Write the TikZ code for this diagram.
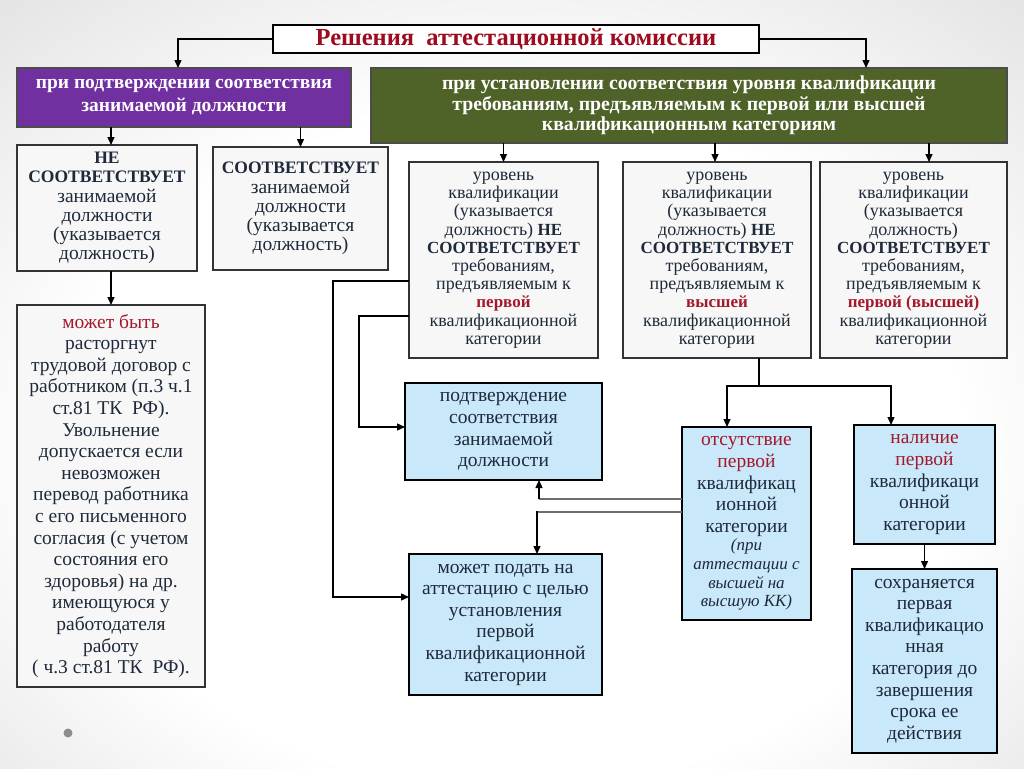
\documentclass[tikz,border=0pt]{standalone}
\usepackage{fontspec}
\setmainfont{Liberation Serif}
\usetikzlibrary{arrows.meta,calc}
\definecolor{txt}{HTML}{1E2A3A}
\definecolor{redt}{HTML}{A3182B}
\definecolor{titred}{HTML}{9E0B1F}
\definecolor{purp}{HTML}{7030A0}
\definecolor{grn}{HTML}{4F6228}
\definecolor{bluef}{HTML}{C9E8F9}
\definecolor{boxw}{HTML}{F7F7F7}
\definecolor{bordc}{HTML}{333333}
\definecolor{gline}{HTML}{6E6E6E}
\pgfdeclareradialshading{bgvig}{\pgfpoint{0bp}{-6bp}}{color(0bp)=(white); color(22bp)=(white); color(50bp)=(black!19); color(75bp)=(black!26)}
\newcommand{\fA}{\fontsize{19.5}{19.2}\selectfont}
\newcommand{\fB}{\fontsize{18}{18.2}\selectfont}
\newcommand{\fC}{\fontsize{19.5}{21.6}\selectfont}
\newcommand{\fI}{\fontsize{17}{19}\selectfont\itshape}
\newcommand{\capA}[1]{{\fontsize{17.5}{19}\selectfont\bfseries #1}}
\newcommand{\capB}[1]{{\fontsize{17}{18}\selectfont\bfseries #1}}
\newcommand{\rd}[1]{\textcolor{redt}{#1}}
\begin{document}
\begin{tikzpicture}[x=1pt,y=-1pt,
  box/.style={draw=bordc, line width=1.2pt, fill=boxw, align=center, inner sep=1pt, outer sep=0pt, text=txt},
  bbox/.style={box, fill=bluef, draw=black},
  arr/.style={line width=1.3pt, -{Triangle[length=8pt,width=7pt]}},
  conn/.style={line width=1.3pt},
  gl/.style={draw=gline, line width=1.8pt}]
\useasboundingbox (0,0) rectangle (1024,768);
\shade[shading=bgvig] (0,0) rectangle (1024,768);
\fill[black!45] (68,733) circle (4.5);

% title
\node[box, fill=white, draw=black, minimum width=486, minimum height=28, font=\fontsize{24.5}{26}\selectfont\bfseries, text=titred] (title) at (516,39) {Решения\ \ аттестационной комиссии};

% header boxes
\node[box, fill=purp, draw=black!70, text=white, minimum width=334, minimum height=59, font=\fontsize{19.5}{23}\selectfont\bfseries] (purple) at (184,97.5) {при подтверждении соответствия\\ занимаемой должности};
\node[box, fill=grn, draw=black!70, text=white, minimum width=636, minimum height=75, font=\fontsize{19.8}{20.7}\selectfont\bfseries] (green) at (689,105.5) {при установлении соответствия уровня квалификации\\ требованиям, предъявляемым к первой или высшей\\ квалификационным категориям};

% left branch
\node[box, minimum width=180, minimum height=126, font=\fA] (ne1) at (107,208) {\capA{НЕ}\\ \capA{СООТВЕТСТВУЕТ}\\ занимаемой\\ должности\\ (указывается\\ должность)};
\node[box, minimum width=175, minimum height=123, font=\fA] (c1) at (300.5,208.5) {\capA{СООТВЕТСТВУЕТ}\\ занимаемой\\ должности\\ (указывается\\ должность)};
\node[box, minimum width=188, minimum height=382, font=\fC] (big) at (111,496) {\rd{может быть}\\ расторгнут\\ трудовой договор с\\ работником (п.3 ч.1\\ ст.81 ТК\ \ РФ).\\ Увольнение\\ допускается если\\ невозможен\\ перевод работника\\ с его письменного\\ согласия (с учетом\\ состояния его\\ здоровья) на др.\\ имеющуюся у\\ работодателя\\ работу\\ ( ч.3 ст.81 ТК\ \ РФ).};

% level boxes
\node[box, minimum width=189, minimum height=196, font=\fB] (l1) at (503.5,260) {уровень\\ квалификации\\ (указывается\\ должность) \capB{НЕ}\\ \capB{СООТВЕТСТВУЕТ}\\ требованиям,\\ предъявляемым к\\ \capB{\rd{первой}}\\ квалификационной\\ категории};
\node[box, minimum width=188, minimum height=196, font=\fB] (l2) at (717,260) {уровень\\ квалификации\\ (указывается\\ должность) \capB{НЕ}\\ \capB{СООТВЕТСТВУЕТ}\\ требованиям,\\ предъявляемым к\\ \capB{\rd{высшей}}\\ квалификационной\\ категории};
\node[box, minimum width=187, minimum height=196, font=\fB] (l3) at (913.5,260) {уровень\\ квалификации\\ (указывается\\ должность)\\ \capB{СООТВЕТСТВУЕТ}\\ требованиям,\\ предъявляемым к\\ \capB{\rd{первой (высшей)}}\\ квалификационной\\ категории};

% blue boxes
\node[bbox, minimum width=197, minimum height=97, font=\fC] (p1) at (503.5,431.5) {подтверждение\\ соответствия\\ занимаемой\\ должности};
\node[bbox, minimum width=193, minimum height=141, font=\fC] (p2) at (505.5,624.5) {может подать на\\ аттестацию с целью\\ установления\\ первой\\ квалификационной\\ категории};
\node[bbox, minimum width=129, minimum height=193, font=\fC] (a) at (746.5,523.5) {\rd{отсутствие}\\ \rd{первой}\\ квалификац\\ ионной\\ категории\\[-3pt] {\fI (при}\\[-3pt] {\fI аттестации с}\\[-3pt] {\fI высшей на}\\[-3pt] {\fI высшую КК)}};
\node[bbox, minimum width=141, minimum height=119, font=\fC] (b) at (924.5,484.5) {\rd{наличие}\\ \rd{первой}\\ квалификаци\\ онной\\ категории};
\node[bbox, minimum width=145, minimum height=184, font=\fC] (c) at (924.5,661) {сохраняется\\ первая\\ квалификацио\\ нная\\ категория до\\ завершения\\ срока ее\\ действия};

% connectors
\draw[arr] (title.west) -| ([xshift=-6pt]purple.north);
\draw[arr] (title.east) -| ([xshift=177pt]green.north);
\draw[arr] ([xshift=4pt]ne1.north |- purple.south) -- ([xshift=4pt]ne1.north);
\draw[arr] (c1.north |- purple.south) -- (c1.north);
\draw[arr] (big.north |- ne1.south) -- (big.north);
\draw[arr] (l1.north |- green.south) -- (l1.north);
\draw[arr] ([xshift=-2pt]l2.north |- green.south) -- ([xshift=-2pt]l2.north);
\draw[arr] ([xshift=15.5pt]l3.north |- green.south) -- ([xshift=15.5pt]l3.north);
\draw[arr] (l1.west |- 0,281) -- (333,281) -- (333,597) -- (p2.west |- 0,597);
\draw[arr] (l1.west |- 0,316) -- (359,316) -- (359,427) -- (p1.west |- 0,427);
\coordinate (split) at (759,386);
\draw[conn] (l2.south -| split) -- (split);
\draw[arr] (split) -| ([xshift=-19.5pt]a.north);
\draw[arr] (split) -| ([xshift=-33.5pt]b.north);
\draw[gl] (a.west |- 0,499) -- (539,499);
\draw[arr] (539,499) -- (p1.south -| 539,0);
\draw[gl] (a.west |- 0,512) -- (537,512);
\draw[arr] (537,511) -- (p2.north -| 537,0);
\draw[arr] (b.south) -- (c.north);
\end{tikzpicture}
\end{document}
